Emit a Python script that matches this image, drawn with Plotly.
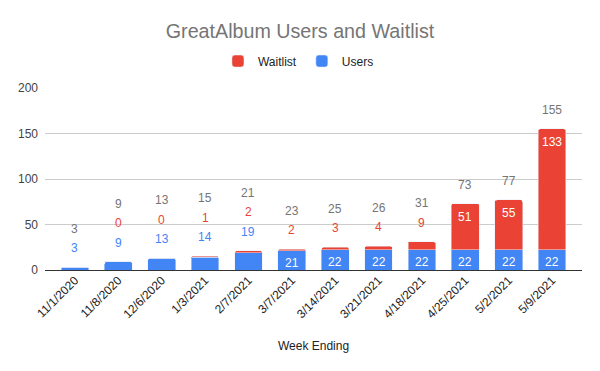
import plotly.graph_objects as go

weeks = ["11/1/2020", "11/8/2020", "12/6/2020", "1/3/2021", "2/7/2021", "3/7/2021",
         "3/14/2021", "3/21/2021", "4/18/2021", "4/25/2021", "5/2/2021", "5/9/2021"]
users = [3, 9, 13, 14, 19, 21, 22, 22, 22, 22, 22, 22]
waitlist = [None, 0, 0, 1, 2, 2, 3, 4, 9, 51, 55, 133]

BLUE = "#4285F4"
RED = "#EA4335"
GRAY = "#757575"
FONT = "Arial, Liberation Sans, sans-serif"

fig = go.Figure()
fig.add_trace(go.Bar(x=weeks, y=users, name="Users", marker_color=BLUE, hoverinfo="x+y+name"))
fig.add_trace(go.Bar(x=weeks, y=[w if w is not None else 0 for w in waitlist], name="Waitlist",
                     marker_color=RED, hoverinfo="x+y+name"))

INSIDE_MIN = 20
annotations = []
for i, wk in enumerate(weeks):
    u = users[i]
    w = waitlist[i] or 0
    total = u + w
    k = 0
    if u >= INSIDE_MIN:
        annotations.append(dict(x=wk, y=u, text=str(u), yshift=-12, font=dict(color="white", size=12)))
    else:
        annotations.append(dict(x=wk, y=total, text=str(u), yshift=19 + 19.5 * k, font=dict(color=BLUE, size=12)))
        k += 1
    if waitlist[i] is not None:
        if w >= INSIDE_MIN:
            annotations.append(dict(x=wk, y=total, text=str(w), yshift=-13, font=dict(color="white", size=12)))
        else:
            annotations.append(dict(x=wk, y=total, text=str(w), yshift=19 + 19.5 * k, font=dict(color=RED, size=12)))
            k += 1
    annotations.append(dict(x=wk, y=total, text=str(total), yshift=19 + 19.5 * k, font=dict(color=GRAY, size=12)))

for a in annotations:
    a.update(showarrow=False, xref="x", yref="y", yanchor="middle", xanchor="center")
    a["font"]["family"] = FONT

W, H = 592, 363
fig.update_layout(
    barmode="stack",
    bargap=0.36,
    barcornerradius=2,
    width=W, height=H,
    margin=dict(l=37, r=18, t=80, b=101, autoexpand=False),
    paper_bgcolor="white", plot_bgcolor="white",
    font=dict(family=FONT, size=12, color="#222222"),
    title=dict(text="GreatAlbum Users and Waitlist", x=(300 - 8) / W, xanchor="center",
               y=1 - 23 / H, yanchor="middle", font=dict(size=19.7, color=GRAY, family=FONT)),
    legend=dict(orientation="h", x=0.472, xanchor="center", y=1.148, yanchor="middle",
                traceorder="reversed", font=dict(size=12, color="#222222"),
                itemwidth=30),
    annotations=annotations,
    xaxis=dict(range=[-0.69, 11.69], tickangle=-45, tickfont=dict(size=12, color="#222222"),
               showgrid=False, ticks="", showline=False, automargin=False,
               title=dict(text="Week Ending", font=dict(size=12, color="#222222"), standoff=21)),
    yaxis=dict(range=[0, 200], tickvals=[0, 50, 100, 150, 200], showgrid=True, gridcolor="#cccccc",
               zeroline=True, zerolinecolor="#333333", zerolinewidth=1, showline=False, automargin=False,
               tickfont=dict(size=12, color="#444444"), ticks="", ticklabelstandoff=6),
)

fig.write_html("out.html")
